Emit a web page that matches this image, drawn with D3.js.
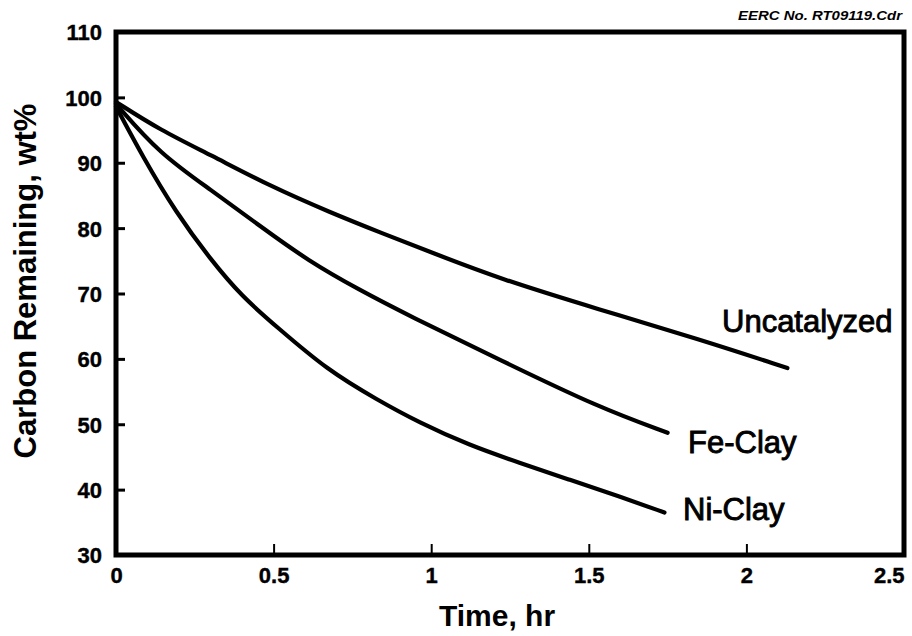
<!DOCTYPE html>
<html>
<head>
<meta charset="utf-8">
<script src="https://cdn.jsdelivr.net/npm/d3@7"></script>
<style>
  html, body { margin: 0; padding: 0; background: #fff; }
  svg { display: block; }
</style>
</head>
<body>
<svg id="chart" width="912" height="636"></svg>
<script>
// ---- data ----
const xTicks = [0, 0.5, 1, 1.5, 2, 2.5];
const yTicks = [30, 40, 50, 60, 70, 80, 90, 100, 110];

const uncatTime = [0, 0.14, 0.30, 0.49, 0.68, 0.84, 1.00, 1.22, 1.53, 1.85, 2.13];
const uncatVals = [99.3, 95.0, 91.2, 86.4, 82.4, 79.3, 76.3, 72.2, 67.6, 63.0, 58.6];

const feTime = [0, 0.14, 0.30, 0.46, 0.61, 0.77, 0.93, 1.22, 1.53, 1.75];
const feVals = [99.0, 91.3, 85.9, 80.2, 75.0, 70.6, 66.6, 59.8, 52.6, 48.7];

const niTime = [0, 0.085, 0.19, 0.30, 0.40, 0.51, 0.67, 0.83, 0.96, 1.12, 1.28, 1.44, 1.60, 1.74];
const niVals = [98.6, 90.9, 82.4, 75.2, 69.5, 64.9, 58.3, 53.7, 50.3, 46.8, 44.1, 41.5, 38.9, 36.5];

const seriesNames = ["Uncatalyzed", "Fe-Clay", "Ni-Clay"];
const seriesTimes = [uncatTime, feTime, niTime];
const seriesVals = [uncatVals, feVals, niVals];

(function () {
// ---- layout ----
const svg = d3.select("#chart");
const mLeft = 116, mRight = 904, mTop = 32, mBottom = 555;

const x = d3.scaleLinear().domain([0, 2.5]).range([mLeft, mRight]);
const y = d3.scaleLinear().domain([30, 110]).range([mBottom, mTop]);

const font = "'Liberation Sans', Arial, Helvetica, sans-serif";

// y axis
const yAxis = d3.axisLeft(y).tickValues(yTicks).tickSize(-9).tickPadding(14).tickFormat(d3.format("d"));
const gy = svg.append("g").attr("transform", `translate(${mLeft},0)`).call(yAxis);
gy.select(".domain").remove();
gy.selectAll(".tick line").attr("stroke", "#000").attr("stroke-width", 3)
  .attr("display", d => (d === 30 || d === 110) ? "none" : null);
gy.selectAll(".tick text")
  .attr("font-family", font).attr("font-weight", "bold").attr("font-size", 22)
  .attr("fill", "#000").attr("stroke", "#000").attr("stroke-width", 0.4)
  .attr("dy", "0.36em");

// x axis
const xAxis = d3.axisBottom(x).tickValues(xTicks).tickSize(-11).tickPadding(12).tickFormat(d3.format("~g"));
const gx = svg.append("g").attr("transform", `translate(0,${mBottom})`).call(xAxis);
gx.select(".domain").remove();
gx.selectAll(".tick line").attr("stroke", "#000").attr("stroke-width", 2)
  .attr("display", d => (d === 0 || d === 2.5) ? "none" : null);
gx.selectAll(".tick text")
  .attr("font-family", font).attr("font-weight", "bold").attr("font-size", 22)
  .attr("fill", "#000").attr("stroke", "#000").attr("stroke-width", 0.4)
  .attr("dy", "0.72em")
  .attr("text-anchor", d => d === 2.5 ? "end" : "middle");

// frame
svg.append("rect")
  .attr("x", mLeft).attr("y", mTop)
  .attr("width", mRight - mLeft).attr("height", mBottom - mTop)
  .attr("fill", "none").attr("stroke", "#000").attr("stroke-width", 5);

// curves
const line = d3.line()
  .x(d => x(d[0])).y(d => y(d[1]))
  .curve(d3.curveBasis);

seriesNames.forEach((name, i) => {
  const pts = seriesTimes[i].map((t, j) => [t, seriesVals[i][j]]);
  svg.append("path")
    .datum(pts)
    .attr("d", line)
    .attr("fill", "none")
    .attr("stroke", "#000")
    .attr("stroke-width", 4.2)
    .attr("stroke-linecap", "round")
    .attr("stroke-linejoin", "round");
});

// series labels
const labels = [
  { text: "Uncatalyzed", px: 722, py: 332 },
  { text: "Fe-Clay", px: 688, py: 453 },
  { text: "Ni-Clay", px: 683, py: 520 }
];
labels.forEach(l => {
  svg.append("text")
    .attr("x", l.px).attr("y", l.py)
    .attr("font-family", font).attr("font-size", 31)
    .attr("fill", "#000").attr("stroke", "#000").attr("stroke-width", 0.9)
    .text(l.text);
});

// axis titles
svg.append("text")
  .attr("x", 497).attr("y", 626)
  .attr("text-anchor", "middle")
  .attr("font-family", font).attr("font-weight", "bold").attr("font-size", 30)
  .attr("fill", "#000")
  .text("Time, hr");

svg.append("text")
  .attr("transform", "translate(36,281) rotate(-90)")
  .attr("text-anchor", "middle")
  .attr("font-family", font).attr("font-weight", "bold").attr("font-size", 31)
  .attr("fill", "#000")
  .text("Carbon Remaining, wt%");

// corner note
svg.append("text")
  .attr("x", 902).attr("y", 20)
  .attr("text-anchor", "end")
  .attr("font-family", font).attr("font-weight", "bold").attr("font-style", "italic")
  .attr("font-size", 12).attr("fill", "#000")
  .attr("textLength", 164).attr("lengthAdjust", "spacingAndGlyphs")
  .text("EERC No. RT09119.Cdr");
})();
</script>
</body>
</html>
